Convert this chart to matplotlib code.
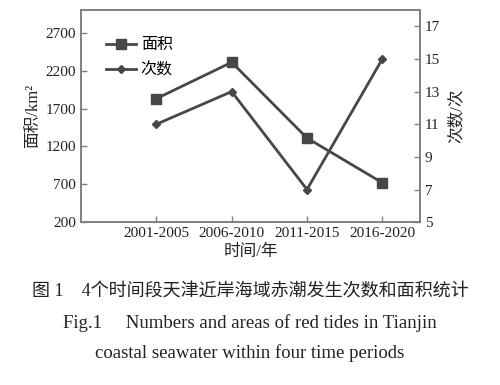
import matplotlib
matplotlib.use("Agg")
import matplotlib.pyplot as plt

# data
periods = ["2001-2005", "2006-2010", "2011-2015", "2016-2020"]
area = [1830, 2310, 1310, 720]      # km2
count = [11, 13, 7, 15]             # times

plt.rcParams["font.family"] = ["Liberation Serif", "Noto Sans CJK SC"]
plt.rcParams["font.size"] = 11

grey = "#808080"
line_c = "#474747"
txt_c = "#222222"

fig = plt.figure(figsize=(5, 3.85), dpi=100)
ax = fig.add_axes([0.162, 0.423, 0.678, 0.551])
ax2 = ax.twinx()

x = list(range(len(periods)))
l1, = ax.plot(x, area, color=line_c, lw=2, marker="s", ms=7, label="面积")
l2, = ax2.plot(x, count, color=line_c, lw=2, marker="D", ms=4.5, label="次数")

ax.set_xlim(-1, 3.5)
ax.set_ylim(200, 3000)
ax.set_yticks([200, 700, 1200, 1700, 2200, 2700])
ax2.set_ylim(5, 18)
ax2.set_yticks([5, 7, 9, 11, 13, 15, 17])
ax.set_xticks(x)
ax.set_xticklabels(periods)

for a in (ax, ax2):
    for s in a.spines.values():
        s.set_color(grey)
        s.set_linewidth(1.2)
    a.tick_params(direction="in", color=grey, length=4, width=1, labelcolor=txt_c)

ax.set_ylabel("面积/km²", color=txt_c, labelpad=3, fontsize=12)
ax2.set_ylabel("次数/次", color=txt_c, labelpad=6, fontsize=12)
ax.set_xlabel("时间/年", color=txt_c, labelpad=3, fontsize=12)

ax.legend(handles=[l1, l2], loc="upper left", bbox_to_anchor=(0.03, 0.94),
          frameon=False, handlelength=1.9, handletextpad=0.3,
          labelspacing=0.6, fontsize=11.5)

fig.text(0.5, 0.242, "图 1    4个时间段天津近岸海域赤潮发生次数和面积统计",
         ha="center", va="center", fontsize=13, color=txt_c)
fig.text(0.5, 0.161, "Fig.1     Numbers and areas of red tides in Tianjin",
         ha="center", va="center", fontsize=13.5, color=txt_c)
fig.text(0.5, 0.083, "coastal seawater within four time periods",
         ha="center", va="center", fontsize=13.5, color=txt_c)

fig.savefig("out.png", dpi=100)
